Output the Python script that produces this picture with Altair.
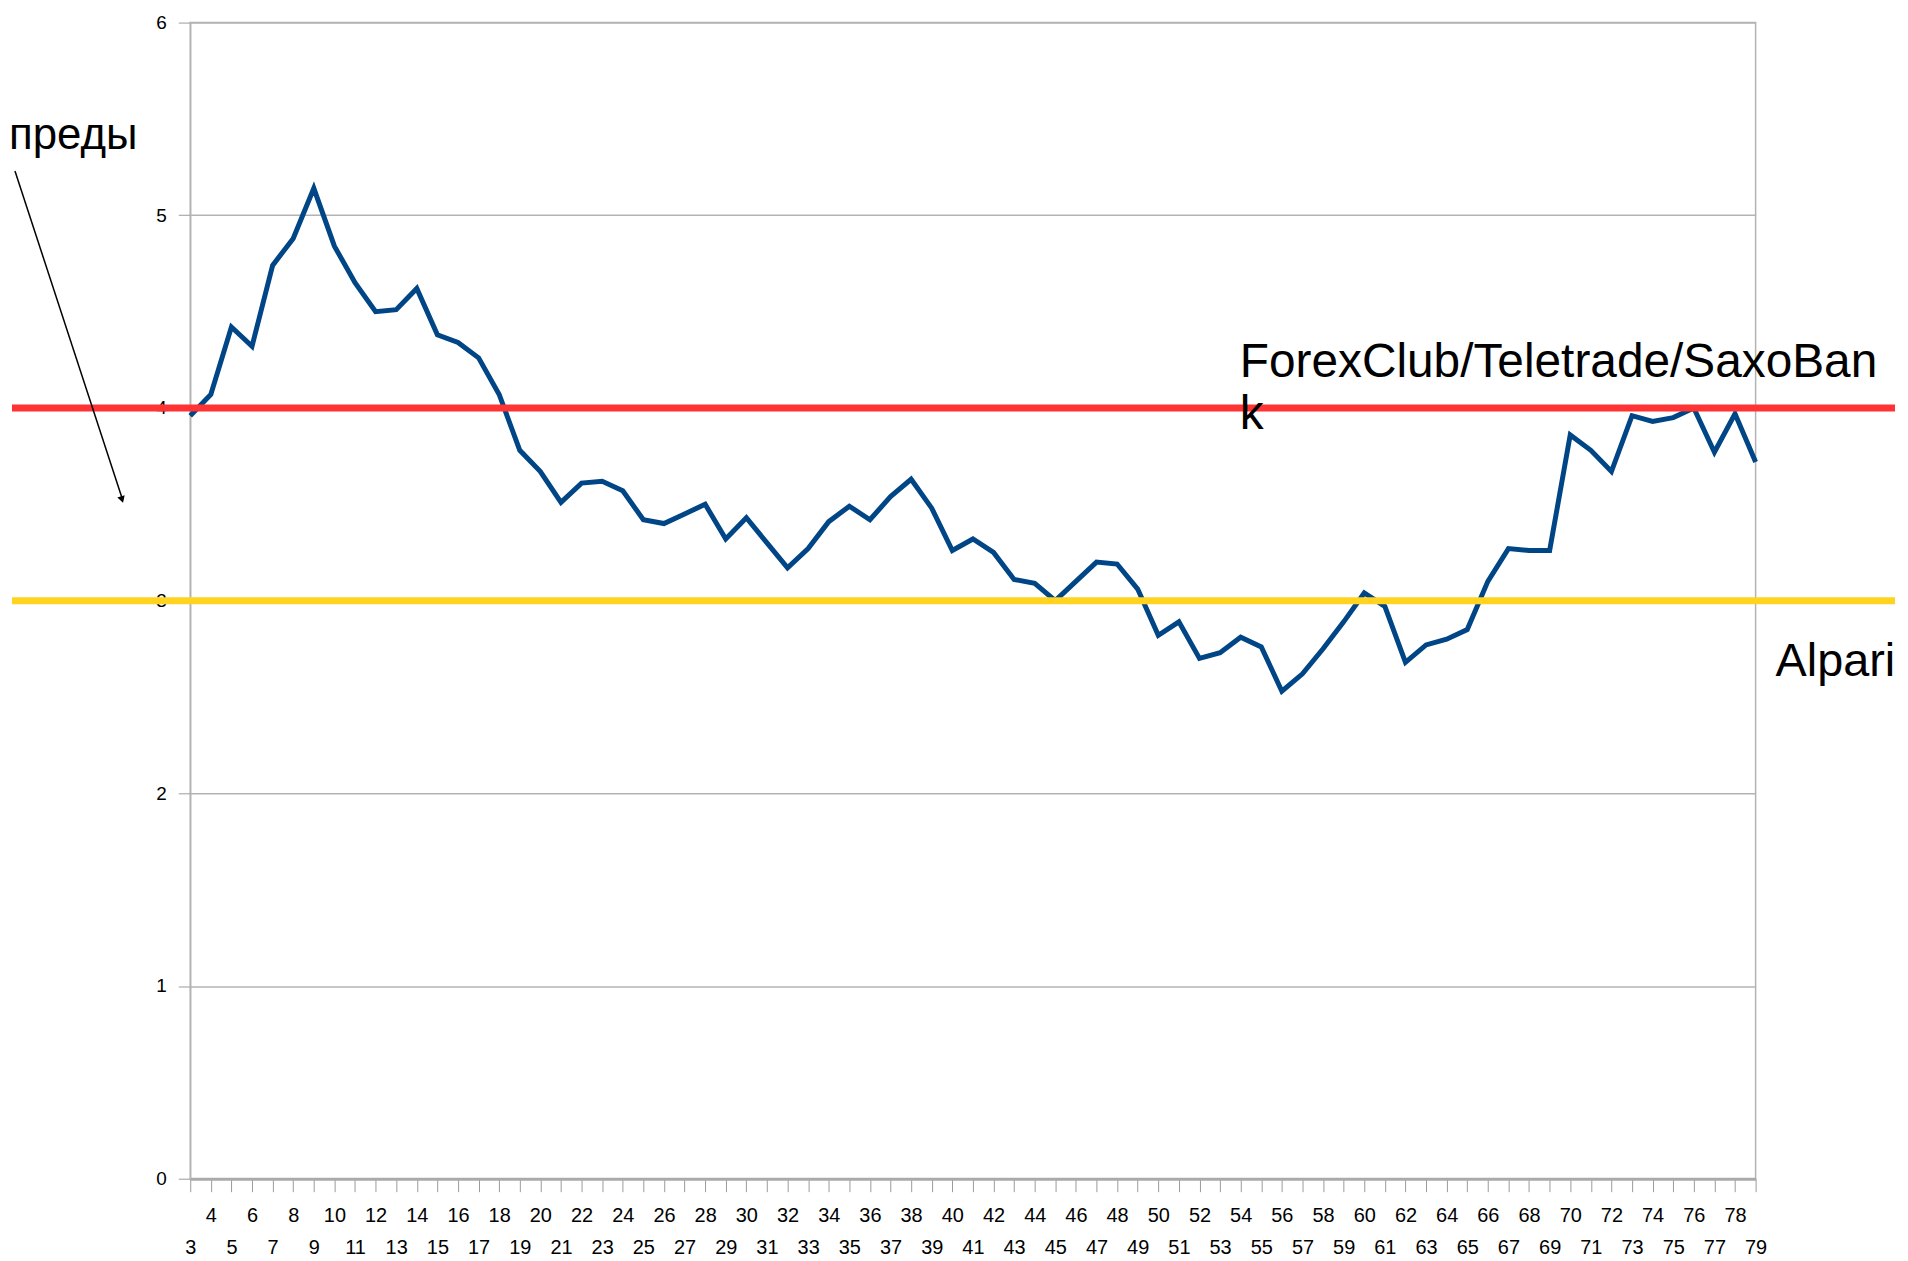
import altair as alt
import pandas as pd

# ---- data ----
categories = list(range(3, 80))
spread = [
    3.96, 4.07, 4.42, 4.32, 4.74, 4.88, 5.14, 4.84, 4.65, 4.50, 4.51, 4.62, 4.38,
    4.34, 4.26, 4.07, 3.78, 3.67, 3.51, 3.61, 3.62, 3.57, 3.42, 3.40, 3.45, 3.50,
    3.32, 3.43, 3.30, 3.17, 3.27, 3.41, 3.49, 3.42, 3.54, 3.63, 3.48, 3.26, 3.32,
    3.25, 3.11, 3.09, 3.00, 3.10, 3.20, 3.19, 3.06, 2.82, 2.89, 2.70, 2.73, 2.81,
    2.76, 2.53, 2.62, 2.75, 2.89, 3.04, 2.97, 2.68, 2.77, 2.80, 2.85, 3.10, 3.27,
    3.26, 3.26, 3.86, 3.78, 3.67, 3.96, 3.93, 3.95, 4.00, 3.77, 3.97, 3.72,
]
assert len(spread) == len(categories)

y_ticks = [0, 1, 2, 3, 4, 5, 6]
level_names = ["ForexClub/Teletrade/SaxoBank", "Alpari"]
level_values = [4, 3]
level_colors = ["#ff3333", "#ffd320"]

FONT = "Liberation Sans, Arial, sans-serif"

df = pd.DataFrame({"category": categories, "spread": spread})
levels = pd.DataFrame({"broker": level_names, "level": level_values, "color": level_colors})
one = pd.DataFrame({"k": [0]})

yscale = alt.Scale(domain=[0, 6], nice=False, zero=True)

line = alt.Chart(df).mark_line(color="#004586", strokeWidth=5).encode(
    x=alt.X(
        "category:Q",
        scale=alt.Scale(domain=[3, 79], nice=False, zero=False),
        axis=alt.Axis(
            values=categories, format="d", title=None, grid=False,
            tickSize=13, tickColor="#9a9a9a", tickWidth=1,
            domainColor="#aaaaaa", domainWidth=3,
            labelFont=FONT, labelFontSize=20, labelColor="#000000",
            labelOverlap=False, labelBound=False, labelFlush=False,
            labelPadding={"condition": {"test": "datum.value % 2 === 0", "value": 14}, "value": 46},
        ),
    ),
    y=alt.Y(
        "spread:Q", scale=yscale,
        axis=alt.Axis(
            values=y_ticks, format="d", title=None, grid=True, gridColor="#b3b3b3", gridWidth=1.5,
            tickSize=12, tickColor="#9a9a9a", domainColor="#b3b3b3", domainWidth=1.5,
            labelFont=FONT, labelFontSize=19, labelPadding=12, labelColor="#000000",
        ),
    ),
)

rules = alt.Chart(levels).mark_rule(strokeWidth=7).encode(
    y=alt.Y("level:Q", scale=yscale, title=None),
    x=alt.value(-179),
    x2=alt.value(1712),
    color=alt.Color("color:N", scale=None, legend=None),
)

forex_text = alt.Chart(levels).transform_filter("datum.level == 4").mark_text(
    align="left", baseline="alphabetic", font=FONT, fontSize=48, color="#000000",
    lineHeight=52, dy=-31,
).encode(
    x=alt.value(1054),
    y=alt.Y("level:Q", scale=yscale, title=None),
    text=alt.value(["ForexClub/Teletrade/SaxoBan", "k"]),
)

alpari_text = alt.Chart(levels).transform_filter("datum.level == 3").mark_text(
    align="left", baseline="alphabetic", font=FONT, fontSize=47, color="#000000", dy=76,
).encode(
    x=alt.value(1592),
    y=alt.Y("level:Q", scale=yscale, title=None),
    text=alt.Text("broker:N"),
)

spread_text = alt.Chart(one).mark_text(
    text="преды", align="left", baseline="alphabetic", font=FONT, fontSize=44, color="#000000",
).encode(x=alt.value(-182), y=alt.value(127))

arrow_line = alt.Chart(one).mark_rule(color="#000000", strokeWidth=1.5).encode(
    x=alt.value(-176), y=alt.value(149), x2=alt.value(-68), y2=alt.value(479)
)

arrow_head = alt.Chart(one).mark_point(
    shape="triangle-down", filled=True, size=60, color="#000000", opacity=1, angle=342
).encode(x=alt.value(-68.5), y=alt.value(479))

chart = alt.layer(
    line, rules, forex_text, alpari_text, spread_text, arrow_line, arrow_head
).properties(
    width=1572,
    height=1161,
    autosize=alt.AutoSizeParams(type="none"),
    padding={"left": 183, "top": 12, "right": 145, "bottom": 80},
    background="#ffffff",
).configure_view(
    stroke="#b3b3b3", strokeWidth=1.5
)

chart.save("out.html", embed_options={"renderer": "svg", "actions": False})
